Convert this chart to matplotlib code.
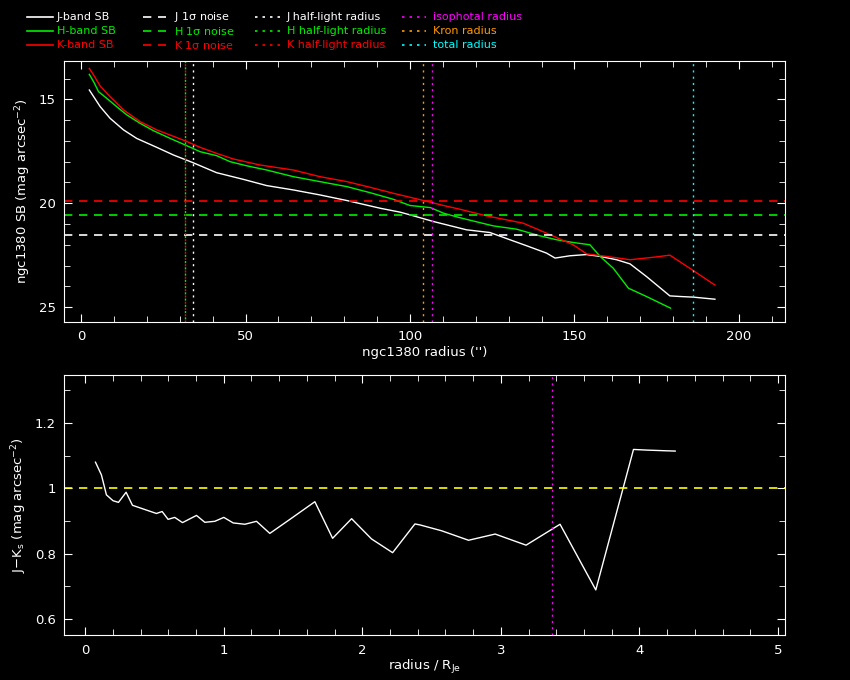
import matplotlib
matplotlib.use('Agg')
from matplotlib import pyplot as plt
from matplotlib.ticker import MultipleLocator

plt.rcParams['font.family'] = ['DejaVu Sans']
plt.rcParams['mathtext.default'] = 'regular'

# surface brightness profiles (radius in arcsec, mag arcsec^-2)
j_r = [2.5, 5.8, 8.8, 12.9, 16.9, 23.0, 28.1, 33.9, 41.2, 49.3, 56.4, 64.5, 72.6, 80.8,
       90.9, 97.0, 100.0, 107.1, 117.2, 124.3, 130.4, 135.5, 141.5, 144.1, 148.6, 153.7,
       157.8, 162.8, 166.9, 171.9, 179.0, 182.1, 186.1, 192.7]
j_sb = [14.55, 15.35, 15.91, 16.47, 16.88, 17.31, 17.68, 18.04, 18.53, 18.85, 19.15, 19.36,
        19.60, 19.87, 20.24, 20.43, 20.56, 20.88, 21.28, 21.41, 21.76, 22.05, 22.40, 22.64,
        22.53, 22.47, 22.56, 22.72, 22.92, 23.53, 24.46, 24.49, 24.52, 24.62]

h_r = [2.5, 3.8, 5.3, 7.8, 10.8, 13.9, 17.9, 22.0, 27.1, 31.7, 36.2, 41.2, 45.3, 50.4,
       56.4, 64.5, 72.6, 80.8, 87.8, 94.9, 100.0, 106.2, 110.2, 115.2, 125.3, 132.4,
       139.5, 144.6, 149.6, 154.7, 157.8, 161.8, 166.4, 171.9, 179.2]
h_sb = [13.80, 14.15, 14.63, 14.95, 15.35, 15.75, 16.15, 16.51, 16.88, 17.20, 17.52, 17.71,
        18.00, 18.20, 18.40, 18.72, 18.96, 19.20, 19.49, 19.81, 20.11, 20.21, 20.48, 20.70,
        21.09, 21.25, 21.57, 21.76, 21.89, 22.00, 22.56, 23.13, 24.09, 24.49, 25.05]

k_r = [2.5, 3.8, 5.8, 8.8, 12.9, 17.9, 23.0, 31.7, 36.2, 41.2, 46.3, 54.4, 64.5, 72.6,
       80.8, 87.8, 94.9, 104.1, 110.2, 115.2, 123.3, 134.4, 141.5, 149.6, 153.7, 159.8,
       166.9, 174.0, 179.0, 186.1, 192.7]
k_sb = [13.51, 13.83, 14.36, 14.87, 15.51, 16.07, 16.47, 17.00, 17.31, 17.60, 17.87, 18.16,
        18.40, 18.72, 18.96, 19.23, 19.52, 19.87, 20.11, 20.29, 20.61, 20.96, 21.44, 22.00,
        22.44, 22.56, 22.72, 22.60, 22.50, 23.24, 23.94]

# 1 sigma noise levels
noise = {'J': 21.53, 'H': 20.58, 'K': 19.87}
# characteristic radii (arcsec)
r_half = {'J': 33.9, 'H': 31.7, 'K': 31.7}
r_iso = 106.8
r_kron = 104.0
r_tot = 186.1

# J-Ks colour profile
col_x = [0.075, 0.118, 0.154, 0.202, 0.241, 0.296, 0.342, 0.515, 0.556, 0.599, 0.647, 0.703,
         0.804, 0.864, 0.936, 1.001, 1.069, 1.153, 1.237, 1.333, 1.478, 1.658, 1.786, 1.923,
         2.067, 2.219, 2.380, 2.416, 2.573, 2.767, 2.959, 3.182, 3.427, 3.685, 3.957, 4.054,
         4.186, 4.258]
col_y = [1.080, 1.041, 0.980, 0.962, 0.957, 0.988, 0.948, 0.923, 0.929, 0.905, 0.911, 0.895,
         0.917, 0.896, 0.899, 0.911, 0.894, 0.890, 0.899, 0.862, 0.905, 0.959, 0.847, 0.907,
         0.845, 0.803, 0.891, 0.888, 0.870, 0.841, 0.860, 0.826, 0.890, 0.689, 1.119, 1.117,
         1.115, 1.114]
col_ref = 1.0
r_iso_scaled = 3.368

bands = ['J', 'H', 'K']
colors = {'J': 'white', 'H': '#00ee00', 'K': 'red'}
dot = (0, (1.5, 3))
dash = (0, (5, 4))


def style(ax):
    ax.set_facecolor('black')
    for s in ax.spines.values():
        s.set_color('white')
    ax.tick_params(which='both', direction='in', top=True, right=True, colors='white',
                   labelsize=9.5, pad=6)
    ax.tick_params(which='major', length=6)
    ax.tick_params(which='minor', length=4)


fig = plt.figure(figsize=(8.5, 6.8), dpi=100, facecolor='black')

# top panel
ax1 = fig.add_axes([0.0753, 0.527, 0.8482, 0.3834])
style(ax1)
ax1.plot(j_r, j_sb, color=colors['J'], lw=1)
ax1.plot(h_r, h_sb, color=colors['H'], lw=1)
ax1.plot(k_r, k_sb, color=colors['K'], lw=1)
for b in bands:
    ax1.axhline(noise[b], color=colors[b], lw=1.2, ls=dash)
ax1.axvline(r_half['J'], color=colors['J'], lw=1, ls=dot)
ax1.axvline(r_half['K'], color=colors['K'], lw=1, ls=dot)
ax1.axvline(r_half['H'], color=colors['H'], lw=1, ls=(2.25, (1.5, 3)))
ax1.axvline(r_kron, color='#ff9900', lw=1, ls=dot)
ax1.axvline(r_iso, color='magenta', lw=1, ls=dot)
ax1.axvline(r_tot, color='cyan', lw=1, ls=dot)
ax1.set_xlim(-5.2, 214)
ax1.set_ylim(25.7, 13.15)
ax1.xaxis.set_major_locator(MultipleLocator(50))
ax1.xaxis.set_minor_locator(MultipleLocator(10))
ax1.yaxis.set_major_locator(MultipleLocator(5))
ax1.yaxis.set_minor_locator(MultipleLocator(1))
ax1.set_xlabel("ngc1380 radius ('')", color='white', fontsize=9.5, labelpad=2)
ax1.set_ylabel('ngc1380 SB (mag arcsec$^{-2}$)', color='white', fontsize=9.5, labelpad=4)

# bottom panel
ax2 = fig.add_axes([0.0753, 0.0657, 0.8482, 0.3824])
style(ax2)
ax2.plot(col_x, col_y, color='white', lw=1)
ax2.axhline(col_ref, color='yellow', lw=1.2, ls=dash)
ax2.axvline(r_iso_scaled, color='magenta', lw=1, ls=dot)
ax2.set_xlim(-0.152, 5.05)
ax2.set_ylim(0.55, 1.346)
ax2.xaxis.set_major_locator(MultipleLocator(1))
ax2.xaxis.set_minor_locator(MultipleLocator(0.2))
ax2.yaxis.set_major_locator(MultipleLocator(0.2))
ax2.yaxis.set_minor_locator(MultipleLocator(0.1))
ax2.set_yticks([0.6, 0.8, 1.0, 1.2], ['0.6', '0.8', '1', '1.2'])
ax2.set_xlabel('radius / R$_{Je}$', color='white', fontsize=9.5, labelpad=1)
ax2.set_ylabel('J$-$K$_s$ (mag arcsec$^{-2}$)', color='white', fontsize=9.5, labelpad=4)

# legend drawn in figure pixels
def fx(px):
    return px / 850


def fy(py):
    return 1 - py / 680


rows = [17, 31, 45]
legend_cols = [
    (27, 53, 57, '-', [('J-band SB', 'white'), ('H-band SB', colors['H']), ('K-band SB', 'red')]),
    (143, 166, 174, dash, [('J 1$\\sigma$ noise', 'white'), ('H 1$\\sigma$ noise', colors['H']),
                           ('K 1$\\sigma$ noise', 'red')]),
    (255, 280, 287, dot, [('J half-light radius', 'white'), ('H half-light radius', colors['H']),
                          ('K half-light radius', 'red')]),
    (402, 426, 433, dot, [('isophotal radius', 'magenta'), ('Kron radius', '#ff9900'),
                          ('total radius', 'cyan')]),
]
for x0, x1, xt, ls, entries in legend_cols:
    for yy, (txt, c) in zip(rows, entries):
        fig.add_artist(plt.Line2D([fx(x0), fx(x1)], [fy(yy), fy(yy)], color=c, lw=1.2,
                                  ls=ls, transform=fig.transFigure))
        fig.text(fx(xt), fy(yy), txt, color=c, fontsize=8, va='center', ha='left')

fig.savefig('out.png', dpi=100, facecolor='black')
